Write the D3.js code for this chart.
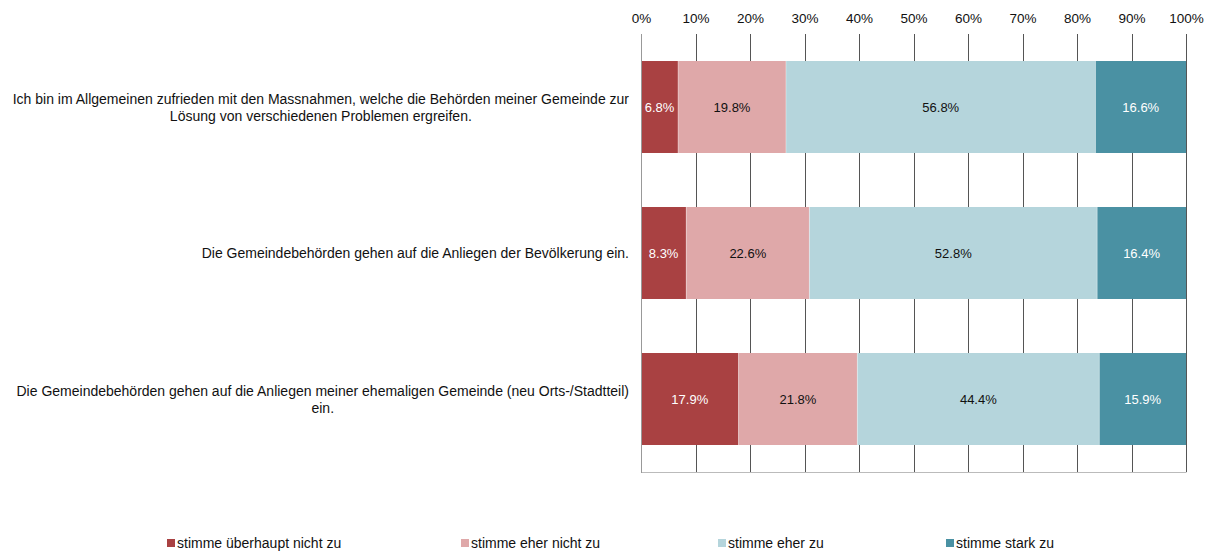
<!DOCTYPE html>
<html><head><meta charset="utf-8">
<script src="https://cdn.jsdelivr.net/npm/d3@7"></script>
<style>body{margin:0;background:#fff}svg{display:block;font-family:"Liberation Sans",Arial,sans-serif}</style>
</head><body><svg id="c" width="1211" height="553"></svg>
<script>
const categories = [
  "Ich bin im Allgemeinen zufrieden mit den Massnahmen, welche die Behörden meiner Gemeinde zur\nLösung von verschiedenen Problemen ergreifen.",
  "Die Gemeindebehörden gehen auf die Anliegen der Bevölkerung ein.",
  "Die Gemeindebehörden gehen auf die Anliegen meiner ehemaligen Gemeinde (neu Orts-/Stadtteil)\nein."
];
const seriesNames = ["stimme überhaupt nicht zu","stimme eher nicht zu","stimme eher zu","stimme stark zu"];
const s1 = [6.8, 8.3, 17.9];
const s2 = [19.8, 22.6, 21.8];
const s3 = [56.8, 52.8, 44.4];
const s4 = [16.6, 16.4, 15.9];
const tickValues = [0,10,20,30,40,50,60,70,80,90,100];
const colors = ["#A94142","#DFA8A9","#B5D5DC","#4A91A3"];
const labelColors = ["#fff","#111","#111","#fff"];

const svg = d3.select("#c");
const pL = 641, pR = 1186, pT = 34, pB = 472;
const x = d3.scaleLinear().domain([0,100]).range([pL,pR]);
const y = d3.scaleBand().domain(d3.range(categories.length)).range([pT,pB]).paddingInner(0.37).paddingOuter(0.185);

// grid
svg.append("g").selectAll("line").data(tickValues.slice(1)).join("line")
  .attr("x1",d=>Math.round(x(d))+0.5).attr("x2",d=>Math.round(x(d))+0.5)
  .attr("y1",pT).attr("y2",pB).attr("stroke","#555").attr("stroke-width",1);
// top axis labels
const ax = d3.axisTop(x).tickValues(tickValues).tickFormat(d=>d+"%").tickSize(0).tickPadding(0);
const gA = svg.append("g").attr("transform",`translate(0,${pT-11})`).call(ax);
gA.select(".domain").remove();
gA.selectAll("text").attr("font-size",13.5).attr("fill","#111").attr("font-family","Liberation Sans, Arial, sans-serif");

const series = [s1,s2,s3,s4];
const stacked = d3.stack().keys([0,1,2,3]).value((d,k)=>series[k][d])(d3.range(categories.length));
stacked.forEach((layer,k)=>{
  const g = svg.append("g");
  g.selectAll("rect").data(layer).join("rect")
    .attr("x",d=>x(d[0])).attr("width",d=>Math.min(x(d[1]),pR)-x(d[0]))
    .attr("y",(d,i)=>y(i)).attr("height",y.bandwidth())
    .attr("fill",colors[k]);
  g.selectAll("text").data(layer).join("text")
    .attr("x",d=>(x(d[0])+Math.min(x(d[1]),pR))/2)
    .attr("y",(d,i)=>y(i)+y.bandwidth()/2+4.5)
    .attr("text-anchor","middle").attr("font-size",13).attr("fill",labelColors[k])
    .text((d,i)=>series[k][i].toFixed(1)+"%");
});
// separators
stacked.slice(1).forEach(layer=>{
  svg.append("g").selectAll("line").data(layer).join("line")
    .attr("x1",d=>x(d[0])).attr("x2",d=>x(d[0]))
    .attr("y1",(d,i)=>y(i)).attr("y2",(d,i)=>y(i)+y.bandwidth())
    .attr("stroke","#fff").attr("stroke-opacity",0.35).attr("stroke-width",1);
});
// axis lines
svg.append("line").attr("x1",pL).attr("x2",pR+0.5).attr("y1",pB+0.5).attr("y2",pB+0.5).attr("stroke","#bbb");
svg.append("line").attr("x1",pL+0.5).attr("x2",pL+0.5).attr("y1",pT).attr("y2",pB+1).attr("stroke","#999");

// category labels
categories.forEach((c,i)=>{
  const lines = c.split("\n");
  const g = svg.append("g");
  const ts = lines.map((l,j)=>g.append("text").attr("font-size",14).attr("fill","#111")
      .attr("text-anchor","middle").attr("y", y(i)+y.bandwidth()/2 + 5 + (j-(lines.length-1)/2)*17).text(l));
  const w = d3.max(ts, t=>t.node().getComputedTextLength());
  ts.forEach(t=>t.attr("x", 629 - w/2));
});

// legend
const legX = [167,461,718,946];
const lg = svg.append("g");
seriesNames.forEach((n,k)=>{
  lg.append("rect").attr("x",legX[k]).attr("y",539).attr("width",8).attr("height",8).attr("fill",colors[k]);
  lg.append("text").attr("x",legX[k]+10).attr("y",548).attr("font-size",14).attr("fill","#111").text(n);
});
</script></body></html>
